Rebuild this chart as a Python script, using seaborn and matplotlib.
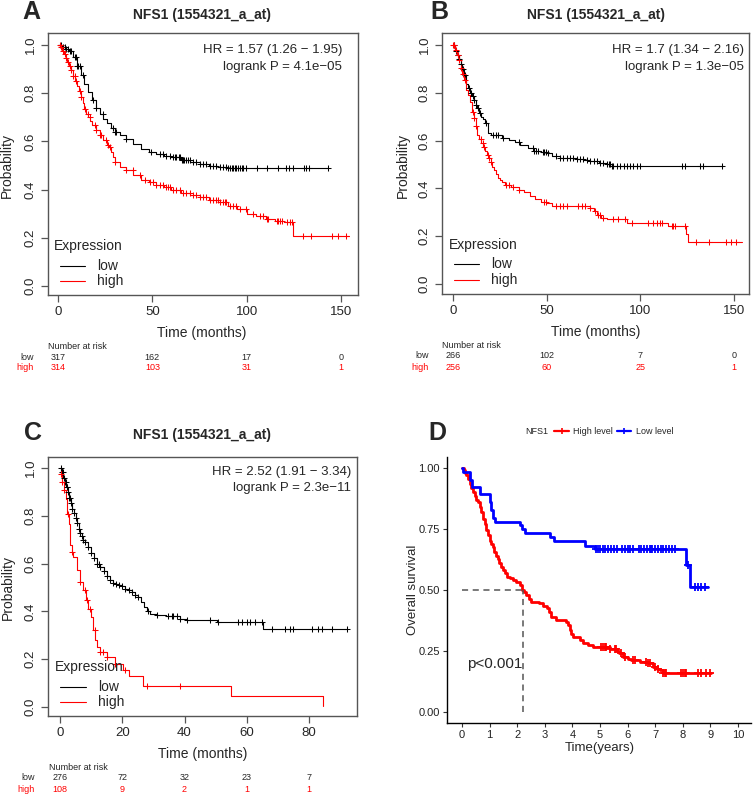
import numpy as np
import matplotlib
matplotlib.use("Agg")
import matplotlib.pyplot as plt
import matplotlib.transforms as mtransforms
from matplotlib.lines import Line2D
import seaborn as sns

sns.set_style("white")
plt.rcParams["font.family"] = ["Liberation Sans", "DejaVu Sans"]

W, H = 753, 796

# ---------------- panel A (months) ----------------
a_low_t = [0, 2, 4, 6, 8, 10, 12, 14, 16, 18, 20, 22, 24, 26, 28, 30, 33, 36, 40, 44,
           48, 52, 56, 60, 65, 70, 75, 80, 85, 90, 143]
a_low_s = [1.0, 0.99, 0.985, 0.975, 0.95, 0.915, 0.875, 0.84, 0.805, 0.77, 0.74, 0.715,
           0.695, 0.675, 0.655, 0.64, 0.625, 0.61, 0.59, 0.57, 0.555, 0.548, 0.54, 0.535,
           0.525, 0.515, 0.508, 0.50, 0.495, 0.488, 0.488]
a_low_cens = [1.8, 2.7, 3.5, 4.4, 5.3, 6.2, 7.1, 8.8, 9.4, 10.1, 10.6, 11.5, 13.3, 18.6,
              20.3, 23.9, 29.2, 30.1, 31, 36.3, 49.5, 54, 55.7, 57.5, 59.3, 61, 62, 62.8,
              64, 64.6, 65.5, 66.3, 67, 68.1, 69, 69.9, 71.6, 73, 75.2, 77, 78.7, 80.5,
              82.3, 84, 85.8, 87.6, 89.3, 90, 91.1, 92, 92.9, 94, 94.6, 95.5, 96.4, 97.3,
              98.2, 99.9, 105.3, 110.6, 116.8, 120.8, 122.6, 124.4, 130.4, 131.4, 133.2, 142.9]
a_high_t = [0, 1, 2, 3, 4, 5, 6, 7, 8, 9, 10, 11, 12, 13, 14, 15, 16, 17, 18, 20, 22, 24,
            26, 27, 28, 29, 30, 33, 36, 40, 44, 48, 52, 56, 60, 65, 70, 75, 80, 85, 90, 95,
            100, 105, 110, 115, 120, 124.5, 154]
a_high_s = [1.0, 0.99, 0.975, 0.962, 0.948, 0.93, 0.915, 0.895, 0.872, 0.85, 0.83, 0.81,
            0.785, 0.76, 0.735, 0.715, 0.70, 0.685, 0.67, 0.647, 0.625, 0.605, 0.585, 0.575,
            0.555, 0.535, 0.515, 0.495, 0.48, 0.46, 0.44, 0.43, 0.42, 0.41, 0.398, 0.388,
            0.378, 0.368, 0.357, 0.347, 0.333, 0.318, 0.30, 0.29, 0.28, 0.27, 0.266, 0.207,
            0.207]
a_high_cens = [0.9, 1.8, 2.7, 3.5, 4.4, 5.3, 6.2, 7.1, 8, 8.8, 9.7, 11.5, 12.4, 14.2, 15.9,
               16.8, 19.5, 20.3, 22.1, 23, 25.6, 26.5, 27.4, 30.1, 36.3, 39.8, 43.3, 46,
               48.6, 50.4, 52.2, 54, 55.7, 57.5, 58.4, 59.3, 61, 62.8, 64.6, 66.3, 68.1,
               69.9, 71.6, 73.4, 75.2, 77, 78.7, 80.5, 82.3, 84, 84.9, 85.8, 87.6, 88.5,
               89.3, 91.1, 92.9, 94.6, 96.4, 99.9, 103.5, 107, 108.8, 110.6, 111.5, 115.9,
               116.8, 117.6, 118.5, 121.2, 122.9, 123.8, 129.7, 134, 145, 148.6, 152.5]
a_ticks = [0, 50, 100, 150]
a_risk_low = [317, 162, 17, 0]
a_risk_high = [314, 103, 31, 1]
a_hr = "HR = 1.57 (1.26 \u2212 1.95)"
a_p = "logrank P = 4.1e\u221205"

# ---------------- panel B (months) ----------------
b_low_t = [0, 1, 2, 3, 4, 5, 6, 7, 8, 9, 10, 11, 12, 13, 14, 15, 16, 17, 18.5, 20, 23,
           26, 30, 33, 36, 40, 43, 47, 50, 53, 57, 61, 66, 70, 73, 78, 82, 84, 144]
b_low_s = [1.0, 0.975, 0.96, 0.94, 0.92, 0.90, 0.875, 0.835, 0.82, 0.80, 0.785, 0.77,
           0.75, 0.735, 0.715, 0.70, 0.69, 0.672, 0.63, 0.625, 0.622, 0.612, 0.603, 0.595,
           0.58, 0.568, 0.557, 0.553, 0.548, 0.535, 0.528, 0.525, 0.522, 0.52, 0.514,
           0.508, 0.50, 0.494, 0.494]
b_low_cens = [0.7, 1.6, 2.5, 3.4, 4.3, 5.2, 6.5, 8.7, 9.6, 10.5, 11.4, 12.3, 13.1, 14.5,
              17.6, 21.1, 22.9, 23.8, 26.5, 35.4, 42.5, 43.4, 44.2, 45.1, 47.8, 48.7,
              49.6, 50.5, 54.9, 57.1, 58.9, 60.7, 62.5, 64.3, 66.1, 67.8, 69.6, 71.4,
              73.2, 75, 76.8, 78.5, 80.3, 82.1, 83, 83.9, 84.8, 85.6, 87.4, 89.2, 91,
              92.8, 94.6, 96.3, 98.1, 99.9, 122.2, 123.9, 131.9, 133.7, 143.5]
b_high_t = [0, 1, 2, 3, 4, 5, 6, 7, 8, 9, 10, 11, 12, 13, 14, 15, 16, 17, 18, 19, 20,
            21, 22, 23, 24, 25, 26, 28, 31, 35, 38, 41, 44, 47, 50, 53, 73, 75, 77, 79,
            82, 93, 114.6, 124.5, 125.5, 154]
b_high_s = [1.0, 0.98, 0.96, 0.935, 0.905, 0.88, 0.855, 0.81, 0.79, 0.76, 0.72, 0.695,
            0.66, 0.625, 0.605, 0.59, 0.575, 0.555, 0.54, 0.525, 0.51, 0.49, 0.475, 0.46,
            0.445, 0.435, 0.425, 0.415, 0.405, 0.395, 0.385, 0.37, 0.355, 0.345, 0.338,
            0.325, 0.318, 0.305, 0.29, 0.278, 0.27, 0.256, 0.242, 0.21, 0.175, 0.175]
b_high_cens = [0, 0.7, 1.6, 2.5, 3.4, 4.3, 5.5, 6.6, 10.5, 11.4, 12.3, 14.9, 15.8, 16.7,
               18.5, 19.4, 20.3, 28.3, 30, 31.8, 35.4, 48.7, 49.6, 54.9, 57.1, 58.9, 60.7,
               66.9, 68.8, 70.5, 73.2, 75.8, 77.6, 78.5, 80.3, 85.6, 88.3, 91.9, 95.4,
               104.3, 107, 108.8, 110.5, 111.4, 116.7, 117.6, 118.5, 123.9, 129.5, 136.7,
               145.5, 148.2, 150.9]
b_ticks = [0, 50, 100, 150]
b_risk_low = [266, 102, 7, 0]
b_risk_high = [256, 60, 25, 1]
b_hr = "HR = 1.7 (1.34 \u2212 2.16)"
b_p = "logrank P = 1.3e\u221205"

# ---------------- panel C (months) ----------------
c_low_t = [0, 0.5, 1, 1.5, 2, 2.5, 3, 3.5, 4, 4.5, 5, 5.5, 6, 6.5, 7, 7.5, 8, 9, 10, 11,
           12, 13, 14, 15, 16, 17, 18, 19, 20, 21, 22, 23, 24, 25, 26, 27, 28, 29, 31,
           34, 38.6, 40.7, 50.5, 65.3, 92.1]
c_low_s = [1.0, 0.985, 0.96, 0.94, 0.92, 0.90, 0.875, 0.855, 0.83, 0.81, 0.79, 0.77,
           0.745, 0.73, 0.715, 0.70, 0.69, 0.67, 0.645, 0.625, 0.60, 0.585, 0.57, 0.55,
           0.53, 0.52, 0.515, 0.51, 0.505, 0.495, 0.49, 0.48, 0.47, 0.46, 0.44, 0.42,
           0.40, 0.39, 0.384, 0.379, 0.37, 0.363, 0.356, 0.328, 0.328]
c_low_cens = [0.3, 0.6, 0.9, 1.2, 1.5, 1.8, 2.1, 2.4, 2.7, 3.0, 3.3, 3.6, 4.0, 4.5, 5.0,
              5.5, 6.0, 6.5, 7.0, 7.5, 8.0, 9.0, 10.0, 11.0, 12.0, 12.5, 13.0, 14.0,
              15.0, 16.0, 17.0, 18.0, 19.0, 20.0, 21.0, 22.0, 23.0, 24.0, 25.0, 28.4,
              31.1, 34.8, 35.9, 36.4, 37.5, 38.6, 40.9, 48.2, 50.9, 57.3, 58.4, 60, 61,
              62.6, 64.8, 68, 72.3, 73.9, 75, 80.9, 83, 84.1, 87.3, 92.1]
c_high_t = [0, 0.3, 0.75, 1.3, 1.8, 2.4, 2.8, 3.2, 3.7, 4.3, 5.4, 6.4, 7.5, 8.4, 9.1,
            9.9, 10.7, 11.3, 11.8, 12.9, 15, 17.7, 20.3, 22, 26.8, 55, 84.4]
c_high_s = [1.0, 0.976, 0.941, 0.907, 0.872, 0.809, 0.767, 0.676, 0.65, 0.628, 0.572,
            0.523, 0.488, 0.446, 0.411, 0.377, 0.321, 0.28, 0.251, 0.23, 0.209, 0.181,
            0.153, 0.128, 0.086, 0.045, 0.003]
c_high_cens = [0.3, 0.75, 1.3, 2.7, 3.7, 6.4, 8.0, 8.6, 9.6, 11.2, 12.9, 13.9, 15, 17.7,
               20.9, 27.8, 38.6]
c_ticks = [0, 20, 40, 60, 80]
c_risk_low = [276, 72, 32, 23, 7]
c_risk_high = [108, 9, 2, 1, 1]
c_hr = "HR = 2.52 (1.91 \u2212 3.34)"
c_p = "logrank P = 2.3e\u221211"

# ---------------- panel D (years) ----------------
d_high_t = [0, 0.06, 0.1, 0.16, 0.22, 0.28, 0.34, 0.4, 0.46, 0.52, 0.58, 0.64, 0.7,
            0.76, 0.82, 0.88, 0.94, 1.0, 1.06, 1.12, 1.18, 1.24, 1.3, 1.36, 1.42, 1.48,
            1.55, 1.62, 1.73, 1.85, 1.97, 2.09, 2.17, 2.25, 2.33, 2.42, 2.51, 2.78, 2.95,
            3.08, 3.16, 3.24, 3.42, 3.78, 3.85, 3.9, 3.96, 4.02, 4.26, 4.38, 4.55, 4.75,
            5.35, 5.6, 5.7, 5.83, 6.0, 6.14, 6.44, 6.74, 6.92, 7.05, 7.16, 7.28, 9.03]
d_high_s = [1.0, 0.99, 0.98, 0.97, 0.955, 0.935, 0.92, 0.90, 0.885, 0.87, 0.86, 0.84,
            0.82, 0.79, 0.77, 0.745, 0.725, 0.70, 0.69, 0.675, 0.655, 0.64, 0.625, 0.61,
            0.595, 0.58, 0.568, 0.555, 0.548, 0.54, 0.534, 0.521, 0.50, 0.49, 0.479,
            0.465, 0.452, 0.445, 0.435, 0.425, 0.41, 0.39, 0.377, 0.37, 0.355, 0.336,
            0.32, 0.308, 0.295, 0.281, 0.275, 0.267, 0.26, 0.251, 0.24, 0.226, 0.218,
            0.212, 0.205, 0.199, 0.185, 0.178, 0.171, 0.16, 0.16]
d_high_cens = [5.05, 5.11, 5.17, 5.23, 5.35, 5.53, 5.59, 5.77, 5.89, 6.2, 6.26, 6.68,
               6.74, 6.8, 6.98, 7.1, 7.28, 7.34, 7.4, 7.95, 8.0, 8.07, 8.13, 8.55, 8.67,
               8.85, 8.97]
d_low_t = [0, 0.05, 0.30, 0.38, 0.64, 1.0, 1.06, 1.14, 1.2, 2.11, 2.17, 2.27, 3.2, 3.32,
           4.47, 4.83, 8.1, 8.27, 8.9]
d_low_s = [1.0, 0.985, 0.951, 0.921, 0.892, 0.862, 0.828, 0.794, 0.78, 0.766, 0.749,
           0.732, 0.716, 0.70, 0.68, 0.667, 0.603, 0.514, 0.514]
d_low_cens = [4.87, 4.93, 5.0, 5.1, 5.2, 5.3, 5.4, 5.5, 5.6, 5.8, 5.9, 6.0, 6.1, 6.2, 6.4,
              6.5, 6.6, 6.7, 6.8, 6.85, 6.9, 7.0, 7.1, 7.2, 7.3, 7.4, 7.5, 7.6, 7.7, 8.19,
              8.43, 8.55, 8.67, 8.79]
d_median = 2.21
d_xticks = list(range(0, 11))
d_yticks = [0.0, 0.25, 0.5, 0.75, 1.0]

RED = "#FF0000"
GRAY = "#555555"

fig = plt.figure(figsize=(W / 100, H / 100), dpi=100)


def fx(px):
    return px / W


def fy(py):
    return 1 - py / H


def add_box(l, t, r, b):
    return fig.add_axes([fx(l), fy(b), (r - l) / W, (b - t) / H])


def step_at(t, s, times):
    idx = np.searchsorted(np.asarray(t), np.asarray(times), side="right") - 1
    return np.asarray(s)[idx]


def draw_km(ax, t, s, cens, color, lw, ms, mlw):
    sns.lineplot(x=t, y=s, drawstyle="steps-post", color=color, linewidth=lw,
                 estimator=None, sort=False, ax=ax, legend=False)
    sns.scatterplot(x=cens, y=step_at(t, s, cens), marker="+", color=color,
                    s=ms, linewidth=mlw, ax=ax, legend=False, zorder=3)


def r_panel(box, xlim, ylim, ticks, low, high, hr, p, risk_low, risk_high,
            letter_xy, title_xy, hr_xy, xlab_xy, ylab_xy, leg_xy, risk_xy):
    ax = add_box(*box)
    draw_km(ax, *low, color="black", lw=0.8, ms=24, mlw=0.75)
    draw_km(ax, *high, color=RED, lw=0.8, ms=24, mlw=0.75)
    ax.set_xlim(*xlim)
    ax.set_ylim(*ylim)
    ax.set_xticks(ticks)
    ax.set_yticks([0, 0.2, 0.4, 0.6, 0.8, 1.0])
    ax.set_yticklabels(["0.0", "0.2", "0.4", "0.6", "0.8", "1.0"])
    ax.set_xlabel("")
    ax.set_ylabel("")
    for sp in ax.spines.values():
        sp.set_color(GRAY)
        sp.set_linewidth(1.0)
    ax.tick_params(direction="out", length=5, width=0.9, color=GRAY, labelsize=9.5,
                   pad=3, bottom=True, left=True)
    ax.tick_params(axis="y", labelrotation=90, pad=3)
    for lab in ax.get_yticklabels():
        lab.set_va("center")

    fig.text(fx(letter_xy[0]), fy(letter_xy[1]), "ABCD"[letter_xy[2]],
             fontsize=18, fontweight="bold", ha="left", va="center")
    fig.text(fx(title_xy[0]), fy(title_xy[1]), "NFS1 (1554321_a_at)", fontsize=10,
             fontweight="bold", ha="center", va="center")
    fig.text(fx(hr_xy[0]), fy(hr_xy[1]), hr, fontsize=9.5, ha="right", va="center")
    fig.text(fx(hr_xy[0]), fy(hr_xy[2]), p, fontsize=9.5, ha="right", va="center")
    fig.text(fx(xlab_xy[0]), fy(xlab_xy[1]), "Time (months)", fontsize=10,
             ha="center", va="center")
    fig.text(fx(ylab_xy[0]), fy(ylab_xy[1]), "Probability", fontsize=10,
             ha="center", va="center", rotation=90)

    # legend
    lx, ly, lw1, lw2, ltx, ly1, ly2 = leg_xy
    fig.text(fx(lx), fy(ly), "Expression", fontsize=10, ha="left", va="center")
    fig.add_artist(Line2D([fx(lw1), fx(lw2)], [fy(ly1), fy(ly1)], color="black", lw=0.8))
    fig.add_artist(Line2D([fx(lw1), fx(lw2)], [fy(ly2), fy(ly2)], color=RED, lw=0.8))
    fig.text(fx(ltx), fy(ly1), "low", fontsize=10, ha="left", va="center")
    fig.text(fx(ltx), fy(ly2), "high", fontsize=10, ha="left", va="center")

    # number at risk
    nx, ny, lab_r, ry1, ry2 = risk_xy
    fig.text(fx(nx), fy(ny), "Number at risk", fontsize=6.5, ha="left", va="center")
    fig.text(fx(lab_r), fy(ry1), "low", fontsize=6.5, ha="right", va="center")
    fig.text(fx(lab_r), fy(ry2), "high", fontsize=6.5, ha="right", va="center",
             color=RED)
    trans = mtransforms.blended_transform_factory(ax.transData, fig.transFigure)
    for tt, n1, n2 in zip(ticks, risk_low, risk_high):
        ax.text(tt, fy(ry1), str(n1), transform=trans, fontsize=6.5, ha="center",
                va="center", clip_on=False)
        ax.text(tt, fy(ry2), str(n2), transform=trans, fontsize=6.5, ha="center",
                va="center", color=RED, clip_on=False)
    return ax


r_panel((48, 33, 358, 295), (-5.3, 159), (-0.037, 1.05), a_ticks,
        (a_low_t, a_low_s, a_low_cens), (a_high_t, a_high_s, a_high_cens),
        a_hr, a_p, a_risk_low, a_risk_high,
        (22, 12, 0), (202, 15), (342, 50, 67), (202, 333), (7, 166),
        (54, 246, 60, 85, 97, 266, 281), (48, 346, 34, 357, 368))

r_panel((442, 33, 749, 294), (-5.9, 158), (-0.042, 1.05), b_ticks,
        (b_low_t, b_low_s, b_low_cens), (b_high_t, b_high_s, b_high_cens),
        b_hr, b_p, b_risk_low, b_risk_high,
        (430, 12, 1), (596, 15), (744, 50, 67), (596, 332), (403, 166),
        (449, 245, 454, 479, 491, 264, 280), (442, 345, 429, 355, 367))

r_panel((48, 457, 357, 716), (-3.86, 95.4), (-0.038, 1.046), c_ticks,
        (c_low_t, c_low_s, c_low_cens), (c_high_t, c_high_s, c_high_cens),
        c_hr, c_p, c_risk_low, c_risk_high,
        (24, 433, 2), (202, 435), (351, 472, 488), (203, 754), (8, 587),
        (55, 667, 60, 86, 98, 687, 702), (49, 767, 35, 778, 789))

# ---------------- panel D ----------------
BLUE = "#0000FF"
axd = add_box(447, 457, 751, 723)
draw_km(axd, d_high_t, d_high_s, d_high_cens, color=RED, lw=2.0, ms=40, mlw=1.3)
draw_km(axd, d_low_t, d_low_s, d_low_cens, color=BLUE, lw=2.0, ms=40, mlw=1.3)
axd.plot([0, d_median], [0.5, 0.5], ls=(0, (4, 3)), color="#555555", lw=1.1)
axd.plot([d_median, d_median], [0, 0.5], ls=(0, (4, 3)), color="#555555", lw=1.1)
axd.text(0.18, 0.195, "p<0.001", fontsize=11, ha="left", va="center")
axd.set_xlim(-0.54, 10.47)
axd.set_ylim(-0.045, 1.045)
axd.set_xticks(d_xticks)
axd.set_yticks(d_yticks)
axd.set_yticklabels(["%.2f" % v for v in d_yticks])
axd.set_xlabel("")
axd.set_ylabel("")
sns.despine(ax=axd)
for sp in ("left", "bottom"):
    axd.spines[sp].set_color("black")
    axd.spines[sp].set_linewidth(1.0)
axd.tick_params(direction="out", length=3, width=0.8, color="#333333", labelsize=8,
                labelcolor="#222222", pad=2, bottom=True, left=True)
fig.text(fx(428), fy(433), "D", fontsize=18, fontweight="bold", ha="left", va="center")
fig.text(fx(600), fy(748), "Time(years)", fontsize=9.5, ha="center", va="center")
fig.text(fx(413), fy(590), "Overall survival", fontsize=9.5, ha="center", va="center",
         rotation=90)

# legend strip above panel D
fig.text(fx(548), fy(431), "NFS1", fontsize=6.5, ha="right", va="center")
for x0, x1, tx, col, lab in [(554, 569, 573, RED, "High level"),
                             (617, 631, 636, BLUE, "Low level")]:
    fig.add_artist(Line2D([fx(x0), fx(x1)], [fy(431), fy(431)], color=col, lw=1.6))
    fig.add_artist(Line2D([fx((x0 + x1) / 2)], [fy(431)], color=col, marker="+",
                          ms=5, mew=1.2))
    fig.text(fx(tx), fy(431), lab, fontsize=6.5, ha="left", va="center")

fig.savefig("out.png", dpi=100)
